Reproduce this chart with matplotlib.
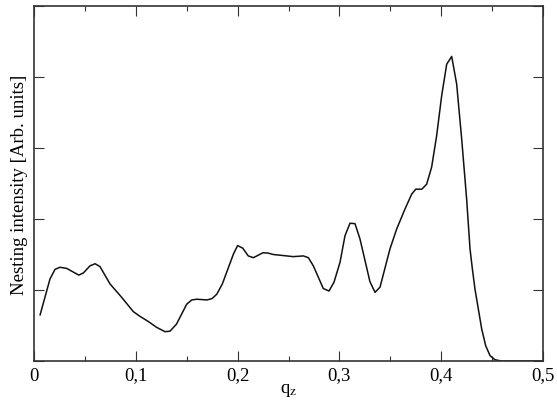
import matplotlib
matplotlib.use('Agg')
import matplotlib.pyplot as plt
from matplotlib.ticker import MultipleLocator, FuncFormatter

plt.rcParams['font.family'] = ['Liberation Serif', 'DejaVu Serif']
plt.rcParams['mathtext.fontset'] = 'stix'

# q_z values and nesting intensity (arb. units)
qz = [0.006, 0.0157, 0.0206, 0.0255, 0.032, 0.044, 0.0485, 0.055, 0.060, 0.0648,
      0.0747, 0.0861, 0.0976, 0.104, 0.112, 0.1205, 0.1287, 0.1336, 0.140, 0.150,
      0.155, 0.160, 0.170, 0.175, 0.1795, 0.185, 0.196, 0.200, 0.205, 0.2105,
      0.2155, 0.225, 0.230, 0.235, 0.2417, 0.2547, 0.2646, 0.2695, 0.2744, 0.2842,
      0.2898, 0.2947, 0.3006, 0.3055, 0.3104, 0.3153, 0.3202, 0.330, 0.335, 0.3399,
      0.3497, 0.3563, 0.3644, 0.371, 0.375, 0.381, 0.3857, 0.3906, 0.3955, 0.4005,
      0.4054, 0.4103, 0.4152, 0.4201, 0.425, 0.4283, 0.4306, 0.4332, 0.4365, 0.4398,
      0.4437, 0.448, 0.4528, 0.459, 0.47, 0.5]
intensity = [0.65, 1.155, 1.29, 1.32, 1.305, 1.21, 1.24, 1.34, 1.37, 1.33,
             1.085, 0.897, 0.695, 0.63, 0.559, 0.474, 0.413, 0.42, 0.52, 0.80,
             0.86, 0.87, 0.86, 0.88, 0.94, 1.085, 1.51, 1.625, 1.59, 1.48,
             1.455, 1.525, 1.52, 1.50, 1.49, 1.47, 1.48, 1.455, 1.34, 1.02,
             0.986, 1.11, 1.39, 1.765, 1.94, 1.935, 1.72, 1.117, 0.967, 1.04,
             1.58, 1.86, 2.14, 2.35, 2.42, 2.42, 2.49, 2.73, 3.17, 3.74,
             4.18, 4.29, 3.90, 3.13, 2.28, 1.58, 1.30, 1.01, 0.73, 0.45,
             0.215, 0.075, 0.018, 0.0, 0.0, 0.0]

fig = plt.figure(figsize=(5.57, 4.06), dpi=100)
ax = fig.add_axes([34 / 557, 44 / 406, 509 / 557, 355 / 406])

ax.plot(qz, intensity, color='#111111', lw=1.1)

ax.set_xlim(0, 0.5)
ax.set_ylim(0, 5)
ax.xaxis.set_major_locator(MultipleLocator(0.1))
ax.xaxis.set_minor_locator(MultipleLocator(0.05))
ax.yaxis.set_major_locator(MultipleLocator(1))
ax.xaxis.set_major_formatter(FuncFormatter(
    lambda v, p: '0' if abs(v) < 1e-9 else f'{v:.1f}'.replace('.', ',')))

ax.tick_params(which='both', direction='in', top=True, right=True,
               width=0.8, color='#333333', labelsize=13.5, pad=4)
ax.tick_params(which='major', length=7)
ax.tick_params(which='minor', length=3.6)
ax.tick_params(axis='y', which='both', labelleft=False)
for s in ax.spines.values():
    s.set_linewidth(1.2)
    s.set_color('#333333')

ax.set_xlabel(r'q$_\mathrm{z}$', fontsize=13.5, labelpad=-2)
ax.set_ylabel('Nesting intensity [Arb. units]', fontsize=13.5, labelpad=4)

fig.savefig('out.png', dpi=100)
